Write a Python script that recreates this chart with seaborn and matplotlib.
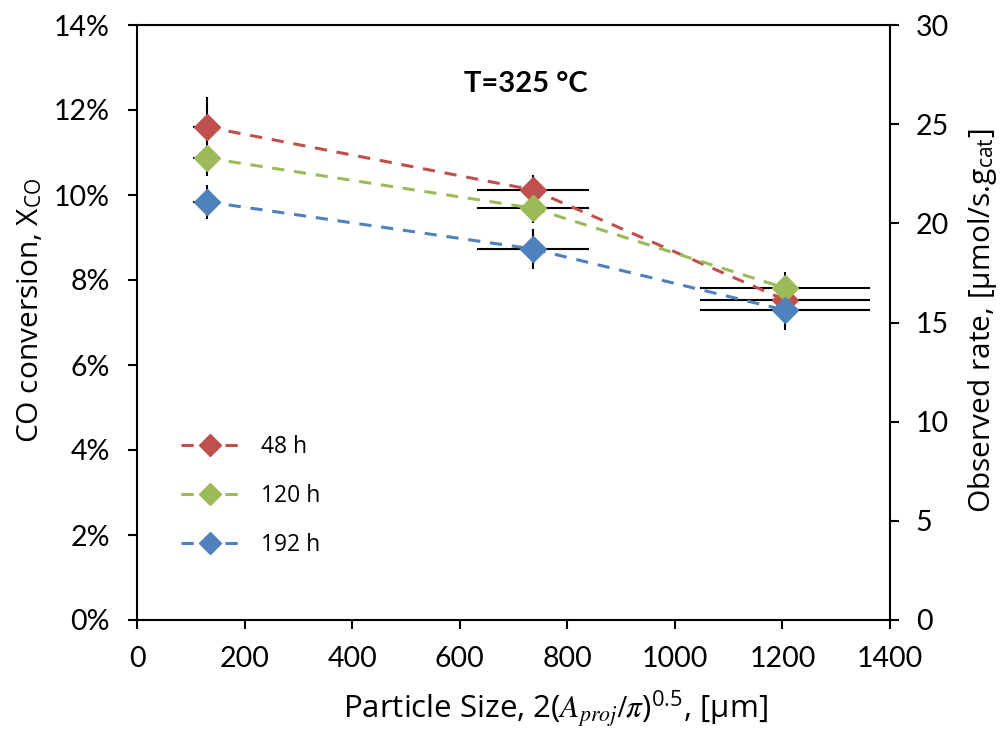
import matplotlib
matplotlib.use("Agg")
import matplotlib.pyplot as plt
import seaborn as sns
import numpy as np
import pandas as pd
from matplotlib.lines import Line2D
from matplotlib.ticker import FuncFormatter, MultipleLocator

# ---- data ----
sizes = [130, 736, 1205]
size_err = [25, 104, 158]
series_names = ["48 h", "120 h", "192 h"]
conv_48 = [11.60, 10.12, 7.53]
conv_120 = [10.87, 9.69, 7.81]
conv_192 = [9.84, 8.73, 7.29]
err_48 = [0.70, 0.35, 0.40]
err_120 = [0.42, 0.35, 0.38]
err_192 = [0.40, 0.47, 0.47]
colors = ["#C0504D", "#9BBB59", "#4F81BD"]

sns.set_theme(style="white")
plt.rcParams['font.family'] = ['Lato', 'DejaVu Sans']
plt.rcParams['mathtext.fontset'] = 'stix'
plt.rcParams['text.color'] = 'black'
plt.rcParams['axes.labelcolor'] = 'black'
label_font = ['Open Sans', 'DejaVu Sans']

rows = []
for name, conv in zip(series_names, [conv_48, conv_120, conv_192]):
    for s, c in zip(sizes, conv):
        rows.append({"size": s, "conv": c, "series": name})
df = pd.DataFrame(rows)

fig = plt.figure(figsize=(10.06, 7.36), dpi=100)
ax = fig.add_axes([137/1006, 1-620/736, (890-137)/1006, (620-25)/736])

# error bars
for conv, err in zip([conv_48, conv_120, conv_192], [err_48, err_120, err_192]):
    ax.errorbar(sizes, conv, yerr=err, xerr=size_err, fmt='none', ecolor='black',
                elinewidth=1.5, capsize=0, zorder=2)

sns.lineplot(data=df, x="size", y="conv", hue="series", palette=colors,
             hue_order=series_names, ax=ax, legend=False, linewidth=2.2,
             marker=None, zorder=3, sort=False)
for ln in ax.get_lines():
    ln.set_dashes((4, 3.2))

for name, conv, col in zip(series_names, [conv_48, conv_120, conv_192], colors):
    ax.plot(sizes, conv, linestyle='none', marker='D', markersize=13,
            markerfacecolor=col, markeredgecolor=col, zorder=4)

ax.set_xlim(0, 1400)
ax.set_ylim(0, 14)
ax.xaxis.set_major_locator(MultipleLocator(200))
ax.yaxis.set_major_locator(MultipleLocator(2))
ax.yaxis.set_major_formatter(FuncFormatter(lambda v, p: f"{v:.0f}%"))

for sp in ax.spines.values():
    sp.set_visible(True)
    sp.set_color('black')
    sp.set_linewidth(1.5)

ax.tick_params(axis='both', which='major', direction='out', length=6.5, width=1.5,
               labelsize=20.5, colors='black')
ax.tick_params(axis='y', pad=13)
ax.tick_params(axis='x', pad=12)
ax.tick_params(left=True, bottom=True)

ax2 = ax.twinx()
ax2.set_ylim(0, 30)
ax2.yaxis.set_major_locator(MultipleLocator(5))
ax2.tick_params(axis='y', direction='out', length=6.5, width=1.5, labelsize=20.5,
                pad=12, colors='black', right=True)
for sp in ax2.spines.values():
    sp.set_visible(False)

ax.set_xlabel(r"Particle Size, 2($A_{proj}/\pi$)$^{\mathregular{0.5}}$, [μm]",
              fontsize=22.5, color='black', family=label_font)
ax.xaxis.set_label_coords((555-137)/753, -(688-620)/595)
ax.set_ylabel(r"CO conversion, X$_{\mathregular{CO}}$", fontsize=21.5, color='black',
              family=label_font)
ax.yaxis.set_label_coords(-(137-45)/753, (620-310)/595)
ax2.set_ylabel(r"Observed rate, [μmol/s.g$_{\mathregular{cat}}$]", fontsize=21.5,
               color='black', family=label_font)
ax2.yaxis.set_label_coords((966-137)/753, (620-320)/595)

ax.text((526-137)/753, (620-84)/595, "T=325 °C", transform=ax.transAxes,
        ha='center', va='center', fontsize=21, fontweight='bold', color='black')

handles = [Line2D([0], [0], color=c, linewidth=2.2, dashes=(4, 3.2), marker='D',
                  markersize=11, markerfacecolor=c, markeredgecolor=c)
           for c in colors]
ax.legend(handles, series_names, loc='upper left',
          bbox_to_anchor=((160-137)/753, (620-414)/595), frameon=False,
          prop={'family': label_font, 'size': 16.5}, labelcolor='black',
          handlelength=2.6, labelspacing=1.1, handletextpad=0.9)

fig.savefig("out.png", dpi=100)
